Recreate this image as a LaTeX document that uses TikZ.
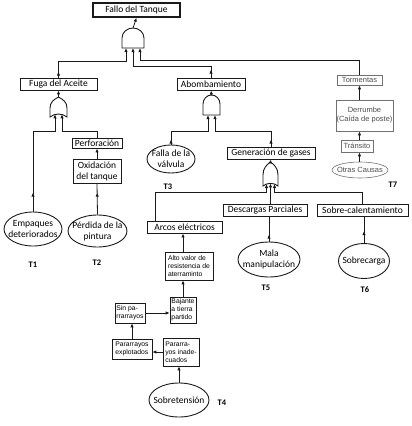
\documentclass[tikz,border=0pt]{standalone}
\usepackage{fontspec}
\setmainfont{Carlito}
\newfontfamily\arialfont{Liberation Sans}
\usepackage{tikz}
\usetikzlibrary{arrows.meta,shapes.geometric,decorations.markings}
\definecolor{ink}{HTML}{1A1A1A}
\definecolor{soft}{HTML}{4D4D4D}

\begin{document}
\begin{tikzpicture}[x=1pt, y=-1pt,
    box/.style={draw=ink, line width=0.9pt, inner sep=0pt, align=center,
                font=\fontsize{9.5}{11}\selectfont},
    small/.style={draw=ink, line width=0.6pt, inner sep=1pt, align=left,
                  font=\arialfont\fontsize{6.8}{8}\selectfont},
    event/.style={draw=ink, ellipse, line width=0.9pt, inner xsep=-10pt, inner ysep=-6pt,
                  align=center, font=\fontsize{9.5}{11}\selectfont},
    light/.style={draw=soft!80, line width=0.6pt, inner sep=0pt, align=center,
                  text=soft, font=\arialfont\fontsize{7.5}{9}\selectfont},
    tag/.style={font=\bfseries\fontsize{8.5}{9}\selectfont},
    gate/.style={draw=ink, line width=0.9pt, fill=white},
    wire/.style={draw=ink, line width=0.8pt},
    flow/.style={wire, -{Latex[length=4pt,width=3.4pt]}},
    midtip/.style={postaction={decorate}, decoration={markings,
                   mark=at position #1 with {\arrow{Latex[length=4pt,width=3.4pt]}}}}
  ]
    \useasboundingbox (0,0) rectangle (412,426);

    % Top event
    \node[box, line width=1.5pt, minimum width=87, minimum height=14] (fallo) at (136.5,10) {Fallo del Tanque};

    % Gates (AND: flat base, OR: pointed top)
    \draw[gate] (122,48) -- (122,38) arc[start angle=180, end angle=360, x radius=11, y radius=10] -- (144,48) -- cycle;
    \coordinate (g0out) at (133,28);
    \coordinate (g0in1) at (126,48);
    \coordinate (g0in2) at (133,48);
    \coordinate (g0in3) at (140,48);

    \draw[gate] (50,117) -- (50,108) .. controls (50,102) and (54,99.5) .. (58.5,97)
                .. controls (63,99.5) and (67,102) .. (67,108) -- (67,117)
                .. controls (62,113) and (55,113) .. (50,117) -- cycle;
    \coordinate (g1out) at (58.5,97);
    \coordinate (g1in1) at (55,114.3);
    \coordinate (g1in2) at (62,114.3);

    \draw[gate] (203,115) -- (203,104) arc[start angle=180, end angle=360, x radius=8.5, y radius=9] -- (220,115) -- cycle;
    \coordinate (g2out) at (211.5,95);
    \coordinate (g2in1) at (208,115);
    \coordinate (g2in2) at (215,115);

    \draw[gate] (263,186) -- (263,175) .. controls (263,168) and (266.5,165) .. (270.5,162)
                .. controls (274.5,165) and (278,168) .. (278,175) -- (278,186)
                .. controls (274,182.5) and (267,182.5) .. (263,186) -- cycle;
    \coordinate (g3out) at (270.5,162);
    \coordinate (g3in1) at (266.5,184);
    \coordinate (g3in2) at (270.5,183.4);
    \coordinate (g3in3) at (274.5,184);

    % First level
    \node[box, minimum width=77, minimum height=12] (fuga) at (58.5,84) {Fuga del Aceite};
    \node[box, minimum width=68, minimum height=12] (abomb) at (211,84) {Abombamiento};
    \node[light, minimum width=45, minimum height=10] (torm) at (359.5,80) {Tormentas};

    % Left branch: oil leak
    \node[box, minimum width=50, minimum height=10] (perf) at (97,143) {Perforación};
    \node[box, minimum width=48, minimum height=24] (oxid) at (97,171) {Oxidación\\del tanque};
    \node[event, minimum width=58, minimum height=34] (empaq) at (33,229) {Empaques\\deteriorados};
    \node[event, minimum width=59, minimum height=32] (perdida) at (97.5,231) {Pérdida de la\\pintura};
    \node[tag] (t1) at (33,265) {T1};
    \node[tag] (t2) at (97,263) {T2};

    % Middle branch: bulging
    \node[event, minimum width=48, minimum height=28] (falla) at (171,159) {Falla de la\\válvula};
    \node[tag] (t3) at (168,187) {T3};
    \node[box, minimum width=88, minimum height=12] (gener) at (271,153) {Generación de gases};
    \node[box, minimum width=75, minimum height=12] (arcos) at (184.5,227) {Arcos eléctricos};
    \node[box, minimum width=84, minimum height=12] (desc) at (265,210) {Descargas Parciales};
    \node[box, minimum width=91, minimum height=12] (sobcal) at (362.5,210) {Sobre-calentamiento};
    \node[event, minimum width=62, minimum height=35] (mala) at (269,259.5) {Mala\\manipulación};
    \node[event, minimum width=51, minimum height=35] (sobrec) at (364,261) {Sobrecarga};
    \node[tag] (t5) at (266,288) {T5};
    \node[tag] (t6) at (365,290) {T6};

    % Arcing chain
    \node[small, minimum width=48, minimum height=28] (alto) at (189,266) {Alto valor de\\resistencia de\\aterraminto};
    \node[small, minimum width=26, minimum height=26] (bajante) at (183,310) {Bajante\\a tierra\\partido};
    \node[small, minimum width=30, minimum height=20] (sinpa) at (130,313) {Sin pa-\\rrarrayos};
    \node[small, minimum width=40, minimum height=20] (expl) at (132,349) {Pararrayos\\explotados};
    \node[small, minimum width=36, minimum height=28] (inade) at (181,352) {Pararra-\\yos inade-\\cuados};
    \node[event, minimum width=60, minimum height=34] (sobret) at (179,400) {Sobretensión};
    \node[tag] (t4) at (222,403) {T4};

    % Right branch: storms
    \node[light, minimum width=57, minimum height=31] (derr) at (364.5,115.5) {Derrumbe\\(Caída de poste)};
    \node[light, minimum width=32, minimum height=12] (trans) at (357,146) {Tránsito};
    \node[light, ellipse, inner xsep=-10pt, inner ysep=-6pt, minimum width=56, minimum height=16] (otras) at (360,170) {Otras Causas};
    \node[tag] (t7) at (393,185) {T7};

    % Connectors
    \draw[flow] (g0out) -- (fallo.south);
    \draw[flow, midtip=6pt] (fuga.north) -- ++(0,-16) -| (g0in1);
    \draw[flow, midtip=8pt] (abomb.north) -- ++(0,-11) -| (g0in2);
    \draw[flow] (torm.north) -- ++(0,-14) -| (g0in3);

    \draw[flow] (g1out) -- (fuga.south);
    \draw[flow, midtip=19pt] (empaq.north) -- ++(0,-80) -| (g1in1);
    \draw[flow] (perf.north) -- ++(0,-6) -| (g1in2);
    \draw[flow] (oxid.north) -- (perf.south);
    \draw[wire, midtip=22pt] (perdida.north) -- (oxid.south);

    \draw[flow] (g2out) -- (abomb.south);
    \draw[flow, midtip=5pt] (falla.north) -- ++(0,-13) -| (g2in1);
    \draw[flow, midtip=7pt] (gener.north) -- ++(0,-15) -| (g2in2);

    \draw[flow] (g3out) -- (gener.south);
    \draw[flow] ([xshift=-29.5pt]arcos.north) -- ++(0,-28) -| (g3in1);
    \draw[flow] (desc.north -| g3in2) -- (g3in2);
    \draw[flow] (sobcal.north) -- ++(0,-11) -| (g3in3);
    \draw[wire, midtip=7pt] (mala.north) -- (mala.north |- desc.south);
    \draw[wire, midtip=12pt] (sobrec.north) -- (sobrec.north |- sobcal.south);

    \draw[flow] (alto.north -| bajante) -- (arcos.south -| bajante);
    \draw[flow] (bajante.north) -- (bajante.north |- alto.south);
    \draw[flow] (sinpa.east) -- (sinpa.east -| bajante.west);
    \draw[flow] (expl.north) -- (expl.north |- sinpa.south);
    \draw[flow] (inade.west) -- (inade.west -| expl.east);
    \draw[flow] (sobret.north) -- (sobret.north |- inade.south);

    \draw[flow] (derr.north -| torm) -- (torm.south);
    \draw[flow] (trans.north -| torm) -- (derr.south -| torm);
    \draw[flow] (otras.north -| torm) -- (trans.south -| torm);
  \end{tikzpicture}
\end{document}
